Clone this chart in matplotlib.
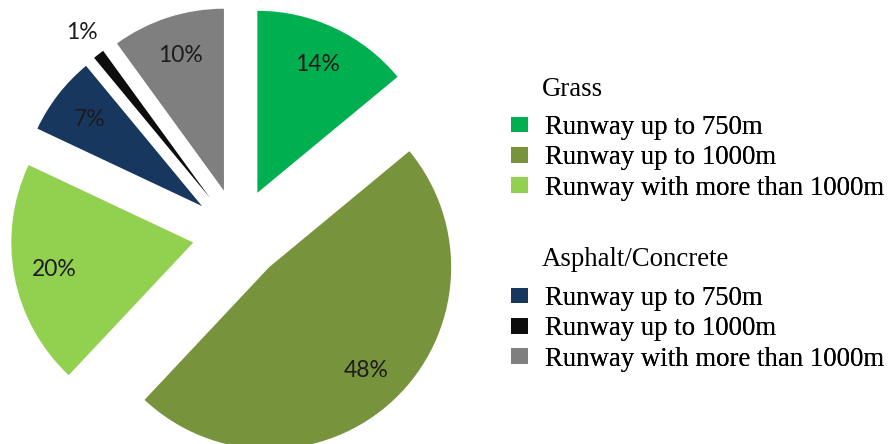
import numpy as np
import matplotlib
matplotlib.use("Agg")
import matplotlib.pyplot as plt
from matplotlib.patches import Patch

# slices, clockwise from 12 o'clock
shares = [14, 48, 20, 7, 1, 10]
colors = ["#00b050", "#77933c", "#92d050", "#17375e", "#0d0d0d", "#7f7f7f"]

grass_labels = ["Runway up to 750m", "Runway up to 1000m", "Runway with more than 1000m"]
asphalt_labels = ["Runway up to 750m", "Runway up to 1000m", "Runway with more than 1000m"]
group_titles = ["Grass", "Asphalt/Concrete"]

W, H = 888, 444
R = 182            # pie radius in px
cx, cy = 238, 234  # pie centre in px from top-left

fig = plt.figure(figsize=(W / 100, H / 100), dpi=100)
lim = 1.3
ax = fig.add_axes([(cx - lim * R) / W, (H - cy - lim * R) / H,
                   2 * lim * R / W, 2 * lim * R / H])

wedges, _ = ax.pie(shares, colors=colors, startangle=90, counterclock=False,
                   explode=[0.25] * len(shares), radius=1,
                   wedgeprops=dict(linewidth=0))
ax.set_xlim(-lim, lim)
ax.set_ylim(-lim, lim)

for w, v in zip(wedges, shares):
    ang = np.deg2rad((w.theta1 + w.theta2) / 2)
    d = 1.15 if v < 2 else 0.78
    x0, y0 = w.center
    ax.text(x0 + d * np.cos(ang), y0 + d * np.sin(ang), f"{v}%",
            ha="center", va="center", fontsize=16.5, family="Lato",
            color="#1c1c1c")

serif = dict(family="Liberation Serif", size=19.3)
# legend groups: (title, labels, colours, title y px, first row top px)
groups = [(group_titles[0], grass_labels, colors[:3], 89, 115),
          (group_titles[1], asphalt_labels, colors[3:], 260, 286)]
for title, labs, cols, ty, top in groups:
    fig.text(542 / W, 1 - ty / H, title, ha="left", va="center", **serif)
    leg = fig.legend([Patch(facecolor=c) for c in cols], labs, loc="upper left",
                     bbox_to_anchor=(511 / W, 1 - top / H),
                     bbox_transform=fig.transFigure,
                     frameon=False, borderpad=0, borderaxespad=0,
                     handlelength=0.63, handleheight=0.52, handletextpad=0.62,
                     labelspacing=0.2, prop=serif)
    fig.add_artist(leg)

fig.savefig("out.png", dpi=100, facecolor="white")
